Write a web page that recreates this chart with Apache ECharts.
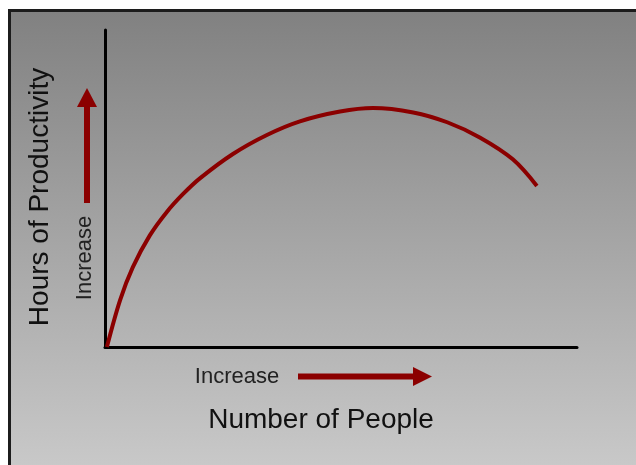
<!DOCTYPE html>
<html>
<head>
<meta charset="utf-8">
<script src="https://cdn.jsdelivr.net/npm/echarts@6/dist/echarts.min.js"></script>
<style>
  html, body { margin: 0; padding: 0; background: #fff; overflow: hidden; }
  .wrap { position: relative; width: 636px; height: 465px; overflow: hidden; }
  .frame {
    position: absolute; left: 8px; top: 9px; width: 640px; height: 470px;
    border-top: 3px solid #1c1c1c; border-left: 3px solid #1c1c1c;
    background: linear-gradient(to bottom, #818181 0%, #cbcbcb 100%);
  }
  .chart { position: absolute; left: 0; top: 0; width: 636px; height: 465px; }
</style>
</head>
<body>
<div class="wrap">
  <div class="frame"></div>
  <div id="chart" class="chart"></div>
</div>
<script>
  // number of people (0-100) and hours of productivity (0-100)
  const people = [0.4, 3.2, 5.9, 9.5, 13.1, 16.5, 20.1, 27.1, 34.3, 41.3, 49.8, 56.8, 65.3, 72.5, 79.4, 86.4, 91.5]
  const hours  = [0, 14.8, 25.2, 35.2, 42.6, 48.2, 53.2, 60.9, 66.9, 71.2, 74.3, 75.4, 74.0, 70.9, 66.1, 59.2, 50.8]

  const red = '#8b0000'
  const mychart = echarts.init(document.getElementById('chart'))

  mychart.setOption({
    animation: false,
    backgroundColor: 'transparent',
    grid: { left: 105, right: 59, top: 30, bottom: 118 },
    xAxis: {
      type: 'value', min: 0, max: 100,
      axisLine: { show: true, lineStyle: { color: '#000', width: 3 } },
      axisTick: { show: false },
      axisLabel: { show: false },
      splitLine: { show: false }
    },
    yAxis: {
      type: 'value', min: 0, max: 100,
      axisLine: { show: true, lineStyle: { color: '#000', width: 3 } },
      axisTick: { show: false },
      axisLabel: { show: false },
      splitLine: { show: false }
    },
    series: [{
      type: 'line',
      smooth: 0.35,
      showSymbol: false,
      clip: false,
      lineStyle: { color: red, width: 4 },
      data: people.map((p, i) => [p, hours[i]])
    }],
    graphic: [
      {
        type: 'text', x: 40, y: 197, rotation: Math.PI / 2,
        style: { x: 0, y: 0, text: 'Hours of Productivity', fill: '#111',
          font: '28px "Liberation Sans", Arial, sans-serif',
          textAlign: 'center', textVerticalAlign: 'middle' }
      },
      {
        type: 'text', x: 85, y: 258, rotation: Math.PI / 2,
        style: { x: 0, y: 0, text: 'Increase', fill: '#222',
          font: '22px "Liberation Sans", Arial, sans-serif',
          textAlign: 'center', textVerticalAlign: 'middle' }
      },
      {
        type: 'text',
        style: { x: 237, y: 377, text: 'Increase', fill: '#222',
          font: '22px "Liberation Sans", Arial, sans-serif',
          textAlign: 'center', textVerticalAlign: 'middle' }
      },
      {
        type: 'text',
        style: { x: 321, y: 420, text: 'Number of People', fill: '#111',
          font: '28px "Liberation Sans", Arial, sans-serif',
          textAlign: 'center', textVerticalAlign: 'middle' }
      },
      // up arrow
      { type: 'rect', shape: { x: 84, y: 104, width: 6, height: 99 }, style: { fill: red } },
      { type: 'polygon', shape: { points: [[77, 107], [97, 107], [87, 88]] }, style: { fill: red } },
      // right arrow
      { type: 'rect', shape: { x: 298, y: 373.5, width: 117, height: 6 }, style: { fill: red } },
      { type: 'polygon', shape: { points: [[413, 367], [413, 386], [432, 376.5]] }, style: { fill: red } }
    ]
  })
</script>
</body>
</html>
